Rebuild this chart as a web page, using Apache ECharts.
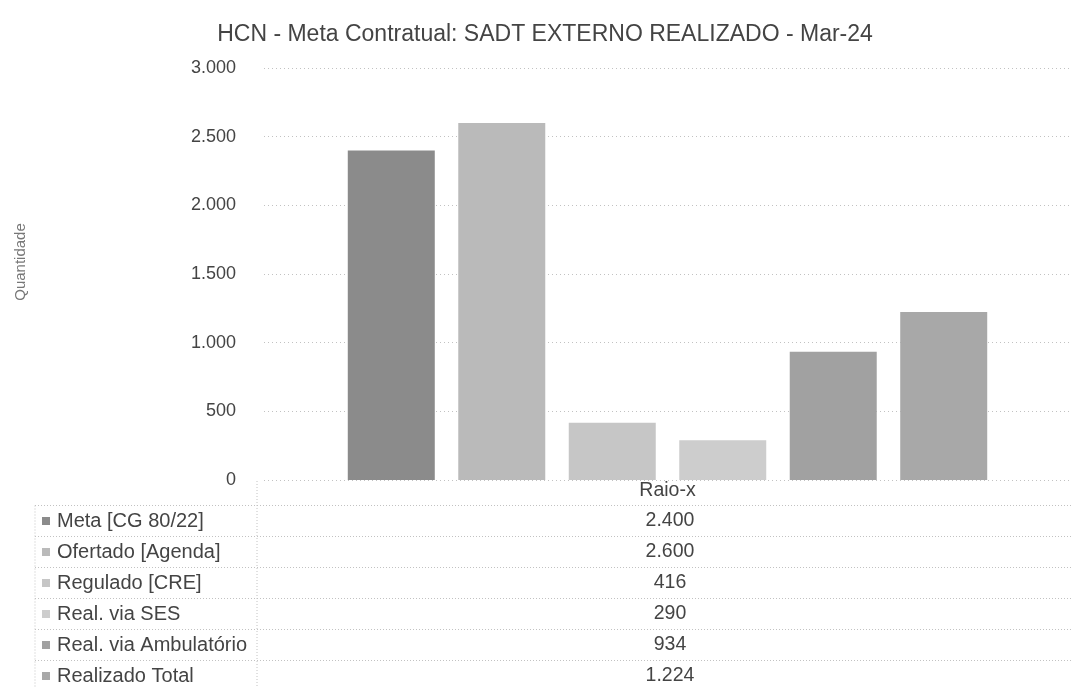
<!DOCTYPE html>
<html>
<head>
<meta charset="utf-8">
<script src="https://cdn.jsdelivr.net/npm/echarts@6/dist/echarts.min.js"></script>
<style>html,body{margin:0;padding:0;background:#fff;}#c{width:1071px;height:688px;}</style>
</head>
<body>
<div id="c"></div>
<script>
const titleText = 'HCN - Meta Contratual: SADT EXTERNO REALIZADO - Mar-24';
const categories = ['Raio-x'];
const seriesNames = ['Meta [CG 80/22]', 'Ofertado [Agenda]', 'Regulado [CRE]', 'Real. via SES', 'Real. via Ambulatório', 'Realizado Total'];
const seriesValues = [2400, 2600, 416, 290, 934, 1224];
const seriesColors = ['#8b8b8b', '#bababa', '#c6c6c6', '#cdcdcd', '#a1a1a1', '#a8a8a8'];
const yTicks = [0, 500, 1000, 1500, 2000, 2500, 3000];

const fmt = v => v.toLocaleString('de-DE');
const FONT = '"Liberation Sans", Arial, sans-serif';

const chart = echarts.init(document.getElementById('c'), null, {renderer: 'canvas'});

const rowY0 = 521, rowH = 31;
const graphics = [];
const lineStyle = {stroke: '#c2c2c2', lineWidth: 1, lineDash: [1, 2]};
for (let i = 0; i < seriesNames.length; i++) {
  const y = rowY0 - rowH / 2 + i * rowH;
  graphics.push({type: 'line', shape: {x1: 35, y1: y, x2: 1071, y2: y}, style: lineStyle, silent: true});
}
graphics.push({type: 'line', shape: {x1: 35, y1: rowY0 - rowH / 2, x2: 35, y2: 688}, style: lineStyle, silent: true});
graphics.push({type: 'line', shape: {x1: 257, y1: 481, x2: 257, y2: 688}, style: lineStyle, silent: true});
seriesNames.forEach((n, i) => {
  const y = rowY0 + i * rowH;
  graphics.push({type: 'rect', shape: {x: 42, y: y - 4, width: 8, height: 8}, style: {fill: seriesColors[i]}, silent: true});
  graphics.push({type: 'text', x: 57, y: y, style: {text: n, font: '20px ' + FONT, fill: '#444', textVerticalAlign: 'middle', textAlign: 'left'}, silent: true});
  graphics.push({type: 'text', x: 670, y: y, style: {text: fmt(seriesValues[i]), font: '19.5px ' + FONT, fill: '#444', textVerticalAlign: 'middle', textAlign: 'center'}, silent: true});
});

const option = {
  animation: false,
  backgroundColor: '#fff',
  title: {
    text: titleText, left: 540, top: 18, textAlign: 'center',
    textStyle: {fontFamily: FONT, fontSize: 23, fontWeight: 'normal', color: '#444'}
  },
  grid: {left: 264, right: 0, top: 68, bottom: 208, containLabel: false},
  xAxis: {
    type: 'category', data: categories,
    axisLine: {show: false}, axisTick: {show: false},
    axisLabel: {margin: 1, fontFamily: FONT, fontSize: 19.5, color: '#444'}
  },
  yAxis: {
    type: 'value', min: 0, max: 3000, interval: 500,
    name: 'Quantidade', nameLocation: 'middle', nameGap: 236, nameRotate: 90,
    nameTextStyle: {fontFamily: FONT, fontSize: 15, color: '#777', padding: [0, 0, 0, 24]},
    axisLine: {show: false}, axisTick: {show: false},
    axisLabel: {margin: 28, fontFamily: FONT, fontSize: 18, color: '#444', formatter: v => fmt(v)},
    splitLine: {lineStyle: {type: [1, 3], color: '#c2c2c2', width: 1}}
  },
  series: seriesNames.map((n, i) => ({
    name: n, type: 'bar', barWidth: 87, barGap: '27%',
    data: [seriesValues[i]],
    itemStyle: {color: seriesColors[i]}
  })),
  graphic: graphics
};
chart.setOption(option);
</script>
</body>
</html>
